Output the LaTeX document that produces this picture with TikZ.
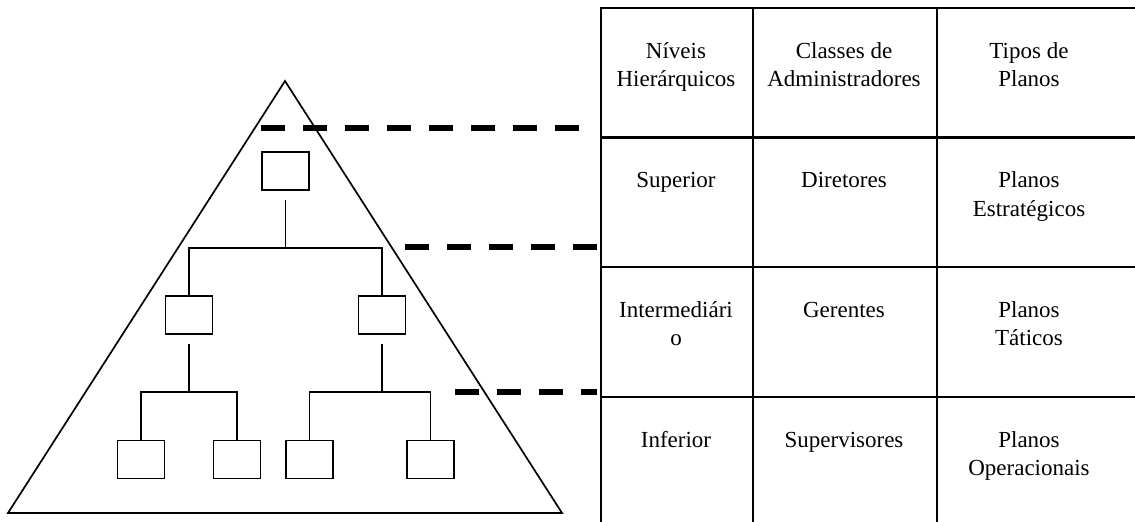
\documentclass[tikz,border=0pt]{standalone}
\usepackage{fontspec}
\setmainfont{Liberation Serif}

\begin{document}
\begin{tikzpicture}[x=0.5pt, y=-0.5pt,
    orgbox/.style={draw, line width=0.85pt, minimum width=23.5pt, minimum height=19pt, inner sep=0pt},
    link/.style={line width=0.85pt},
    levelsep/.style={line width=3.25pt, dash pattern=on 11.75pt off 9.25pt},
    tabrule/.style={line width=1.1pt, line cap=rect},
    celltext/.style={align=center, anchor=base, inner sep=0pt, font=\fontsize{11.5}{14.3}\selectfont}]

    \useasboundingbox (0,0) rectangle (1135,522);

    % Pyramid
    \draw[line width=0.85pt] (285,81) -- (562,513) -- (8,513) -- cycle;

    % Org chart boxes
    \node[orgbox] (top) at (285.5,171) {};
    \node[orgbox] (midL) at (189,315) {};
    \node[orgbox] (midR) at (382,315) {};
    \node[orgbox] (botA) at (141,459.5) {};
    \node[orgbox] (botB) at (237,459.5) {};
    \node[orgbox] (botC) at (309.6,459.5) {};
    \node[orgbox] (botD) at (430.4,459.5) {};

    % Connectors
    \coordinate (bar1) at (0,248);
    \coordinate (bar2) at (0,392);
    \draw[link, shorten <=4.5pt] (top.south) -- (top.south |- bar1);
    \draw[link] (midL.north) -- (midL.north |- bar1) -- (midR.north |- bar1) -- (midR.north);
    \draw[link, shorten <=4.5pt] (midL.south) -- (midL.south |- bar2);
    \draw[link, shorten <=4.5pt] (midR.south) -- (midR.south |- bar2);
    \draw[link] (botA.north) -- (botA.north |- bar2) -- (botB.north |- bar2) -- (botB.north);
    \draw[link] (botC.north) -- (botC.north |- bar2) -- (botD.north |- bar2) -- (botD.north);

    % Level separators
    \draw[levelsep] (261,128) -- (580,128);
    \draw[levelsep] (405,247) -- (597,247);
    \draw[levelsep] (455,392) -- (597,392);

    % Table
    \foreach \y in {8,137.5,267,397}
        \draw[tabrule] (601,\y) -- (1135,\y);
    \foreach \x in {601,753,937}
        \draw[tabrule] (\x,8) -- (\x,522);

    % Header row (base = last line)
    \node[celltext] (lvl) at (676,87) {Níveis\\Hierárquicos};
    \node[celltext] (cls) at (844,87) {Classes de\\Administradores};
    \node[celltext] (pln) at (1029,87) {Tipos de\\Planos};

    % Levels
    \node[celltext] (sup) at (676,188) {Superior};
    \node[celltext] (dir) at (844,188) {Diretores};
    \node[celltext] (est) at (1029,216.5) {Planos\\Estratégicos};

    \node[celltext] (int) at (676,346) {Intermediári\\o};
    \node[celltext] (ger) at (844,317.5) {Gerentes};
    \node[celltext] (tat) at (1029,346) {Planos\\Táticos};

    \node[celltext] (inf) at (676,447.5) {Inferior};
    \node[celltext] (spv) at (844,447.5) {Supervisores};
    \node[celltext] (ope) at (1029,476) {Planos\\Operacionais};
\end{tikzpicture}
\end{document}
